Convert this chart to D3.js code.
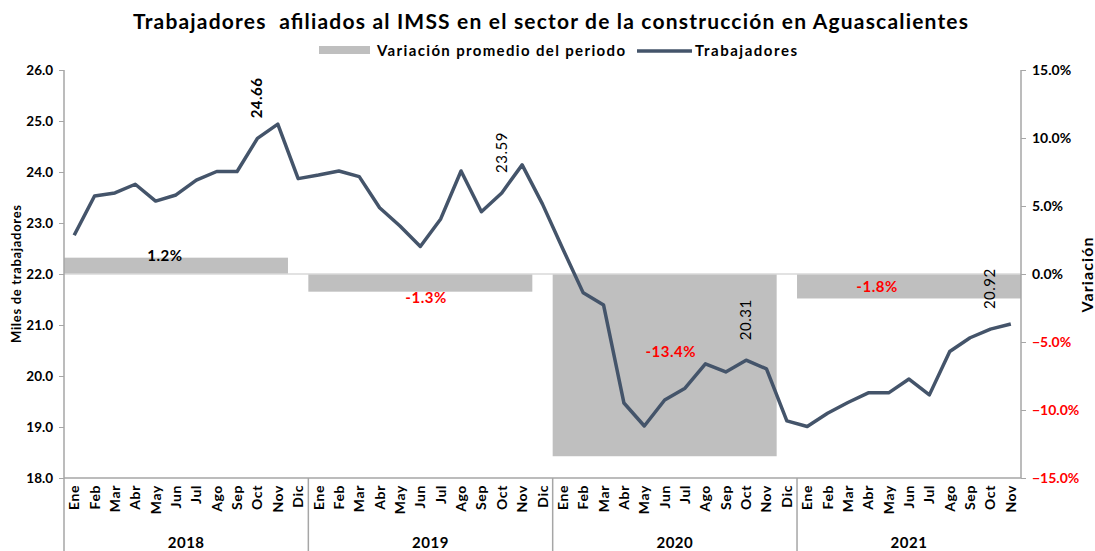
<!DOCTYPE html>
<html>
<head>
<meta charset="utf-8">
<script src="https://cdn.jsdelivr.net/npm/d3@7"></script>
<style>
  body { margin: 0; background: #fff; }
  svg text { font-family: Lato, "Open Sans", sans-serif; font-weight: 700; fill: #000; }
</style>
</head>
<body>
<div class="container"></div>
<script>
var months = ["Ene","Feb","Mar","Abr","May","Jun","Jul","Ago","Sep","Oct","Nov","Dic"];
var years = ["2018","2019","2020","2021"];
var monthsPerYear = [12, 12, 12, 11];

// miles de trabajadores, Ene 2018 - Nov 2021
var trabajadores = [
  22.76, 23.53, 23.59, 23.76, 23.43, 23.55, 23.84, 24.01, 24.01, 24.66, 24.94, 23.87,
  23.94, 24.02, 23.91, 23.30, 22.94, 22.54, 23.08, 24.02, 23.22, 23.59, 24.14, 23.37,
  22.49, 21.63, 21.39, 19.47, 19.02, 19.53, 19.76, 20.24, 20.08, 20.31, 20.14, 19.12,
  19.01, 19.27, 19.48, 19.67, 19.67, 19.94, 19.63, 20.48, 20.75, 20.92, 21.02
];

// variacion promedio del periodo (%)
var variacion = [1.2, -1.3, -13.4, -1.8];
var variacionLabels = ["1.2%", "-1.3%", "-13.4%", "-1.8%"];

// etiquetas de datos (octubre de cada año)
var labelMonth = [9, 21, 33, 45];
var labelText = ["24.66", "23.59", "20.31", "20.92"];

var leftTicks = [18, 19, 20, 21, 22, 23, 24, 25, 26];
var rightTicks = [-15, -10, -5, 0, 5, 10, 15];

// placement of the bar labels, in month units and percent units
var barLabelMonth = [4.96, 17.78, 29.8, 39.93];
var barLabelPct = [1.35, -1.75, -5.75, -0.95];

const WIDTH = 1095;
const HEIGHT = 551;
const LEFT = 64, RIGHT = 1021, TOP = 70, BOTTOM = 478;

var translate = function(x, y){
  return "translate(" + x + "," + y + ")";
};

var svg = d3.select('.container').append('svg')
  .attr('width', WIDTH)
  .attr('height', HEIGHT);

var n = trabajadores.length;
var xScale = d3.scaleBand()
  .domain(d3.range(n))
  .range([LEFT, RIGHT])
  .padding(0);
var bw = xScale.bandwidth();

var yScale = d3.scaleLinear().domain([18, 26]).range([BOTTOM, TOP]);
var yRight = d3.scaleLinear().domain([-15, 15]).range([BOTTOM, TOP]);

// year start indices
var yearStart = [];
var acc = 0;
monthsPerYear.forEach(function(m){ yearStart.push(acc); acc += m; });

// title
svg.append('text')
  .attr('x', 133).attr('y', 29)
  .attr('textLength', 835).attr('lengthAdjust', 'spacing')
  .style('font-size', '21px')
  .style('white-space', 'pre')
  .text('Trabajadores  afiliados al IMSS en el sector de la construcción en Aguascalientes');

// legend
var legend = svg.append('g');
legend.append('rect').attr('x', 319).attr('y', 46).attr('width', 51).attr('height', 8).attr('fill', '#bfbfbf');
legend.append('text').attr('x', 377).attr('y', 56).style('font-size', '15px')
  .attr('textLength', 248).attr('lengthAdjust', 'spacing')
  .text('Variación promedio del periodo');
legend.append('line').attr('x1', 637).attr('x2', 692).attr('y1', 51).attr('y2', 51)
  .attr('stroke', '#44546a').attr('stroke-width', 3.5);
legend.append('text').attr('x', 695).attr('y', 56).style('font-size', '15px')
  .attr('textLength', 102).attr('lengthAdjust', 'spacing')
  .text('Trabajadores');

// bars
svg.append('g').selectAll('rect').data(variacion).enter().append('rect')
  .attr('x', function(d, i){ return xScale(yearStart[i]); })
  .attr('width', function(d, i){ return bw * 11; })
  .attr('y', function(d){ return yRight(Math.max(0, d)); })
  .attr('height', function(d){ return Math.abs(yRight(d) - yRight(0)); })
  .attr('fill', '#bfbfbf');

// zero line
svg.append('line')
  .attr('x1', LEFT).attr('x2', RIGHT)
  .attr('y1', yRight(0)).attr('y2', yRight(0))
  .attr('stroke', '#d9d9d9').attr('stroke-width', 1.5);

// bar labels
svg.append('g').selectAll('text').data(variacionLabels).enter().append('text')
  .attr('x', function(d, i){ return LEFT + barLabelMonth[i] * bw; })
  .attr('y', function(d, i){ return yRight(barLabelPct[i]); })
  .attr('dy', '0.35em')
  .attr('text-anchor', 'middle')
  .style('font-size', '15px')
  .style('letter-spacing', '0.5px')
  .style('fill', function(d, i){ return variacion[i] < 0 ? '#ff0000' : '#000'; })
  .text(function(d){ return d; });

// left axis
var yAxis = d3.axisLeft(yScale).tickValues(leftTicks).tickFormat(d3.format('.1f')).tickSize(5);
var gl = svg.append('g').attr('transform', translate(LEFT, 0)).call(yAxis);
gl.select('.domain').remove();
gl.selectAll('.tick line').attr('stroke', '#a6a6a6');
gl.selectAll('.tick text').attr('x', -11).style('font-size', '13.5px').style('font-family', 'Lato, sans-serif');
svg.append('line').attr('x1', LEFT).attr('x2', LEFT).attr('y1', TOP).attr('y2', HEIGHT)
  .attr('stroke', '#a6a6a6').attr('stroke-width', 1.5);

// right axis
var yAxisR = d3.axisRight(yRight).tickValues(rightTicks)
  .tickFormat(function(d){ return d3.format('.1f')(d) + '%'; }).tickSize(5);
var gr = svg.append('g').attr('transform', translate(RIGHT, 0)).call(yAxisR);
gr.select('.domain').remove();
gr.selectAll('.tick line').attr('stroke', '#a6a6a6');
gr.selectAll('.tick text').attr('x', 11).style('font-size', '14px').style('font-family', 'Lato, sans-serif')
  .style('fill', function(d){ return d < 0 ? '#ff0000' : '#000'; });
svg.append('line').attr('x1', RIGHT).attr('x2', RIGHT).attr('y1', TOP).attr('y2', BOTTOM)
  .attr('stroke', '#a6a6a6').attr('stroke-width', 1.5);

// x axis line
svg.append('line').attr('x1', LEFT).attr('x2', RIGHT).attr('y1', BOTTOM).attr('y2', BOTTOM)
  .attr('stroke', '#a6a6a6').attr('stroke-width', 1.5);

// month labels
svg.append('g').selectAll('text').data(trabajadores).enter().append('text')
  .attr('transform', function(d, i){ return translate(xScale(i) + bw / 2 + 5, BOTTOM + 7) + ' rotate(-90)'; })
  .attr('text-anchor', 'end')
  .style('font-size', '14px')
  .style('letter-spacing', '0.6px')
  .text(function(d, i){ return months[i % 12]; });

// year separators and labels
svg.append('g').selectAll('line').data(yearStart.slice(1)).enter().append('line')
  .attr('x1', function(d){ return xScale(d); }).attr('x2', function(d){ return xScale(d); })
  .attr('y1', BOTTOM).attr('y2', HEIGHT)
  .attr('stroke', '#a6a6a6').attr('stroke-width', 1.5);

svg.append('g').selectAll('text').data(years).enter().append('text')
  .attr('x', function(d, i){ return xScale(yearStart[i]) + monthsPerYear[i] * bw / 2; })
  .attr('y', 548)
  .attr('text-anchor', 'middle')
  .style('font-size', '15px')
  .style('letter-spacing', '0.5px')
  .text(function(d){ return d; });

// axis titles
svg.append('text')
  .attr('transform', translate(21, 274) + ' rotate(-90)')
  .attr('text-anchor', 'middle')
  .attr('textLength', 138).attr('lengthAdjust', 'spacing')
  .style('font-size', '13px')
  .text('Miles de trabajadores');
svg.append('text')
  .attr('transform', translate(1093, 275) + ' rotate(-90)')
  .attr('text-anchor', 'middle')
  .attr('textLength', 75).attr('lengthAdjust', 'spacing')
  .style('font-size', '16px')
  .text('Variación');

// line
var line = d3.line()
  .x(function(d, i){ return xScale(i) + bw / 2; })
  .y(function(d){ return yScale(d); });

svg.append('path')
  .attr('d', line(trabajadores))
  .attr('fill', 'none')
  .attr('stroke', '#44546a')
  .attr('stroke-width', 3.5)
  .attr('stroke-linejoin', 'round');

// data labels
svg.append('g').selectAll('text').data(labelMonth).enter().append('text')
  .attr('transform', function(d){ return translate(xScale(d) + bw / 2 + 5, yScale(trabajadores[d]) - 20) + ' rotate(-90)'; })
  .attr('text-anchor', 'start')
  .style('font-size', '15px')
  .style('letter-spacing', '0.5px')
  .style('font-weight', function(d, i){ return i === 0 ? 700 : 400; })
  .text(function(d, i){ return labelText[i]; });
</script>
</body>
</html>
